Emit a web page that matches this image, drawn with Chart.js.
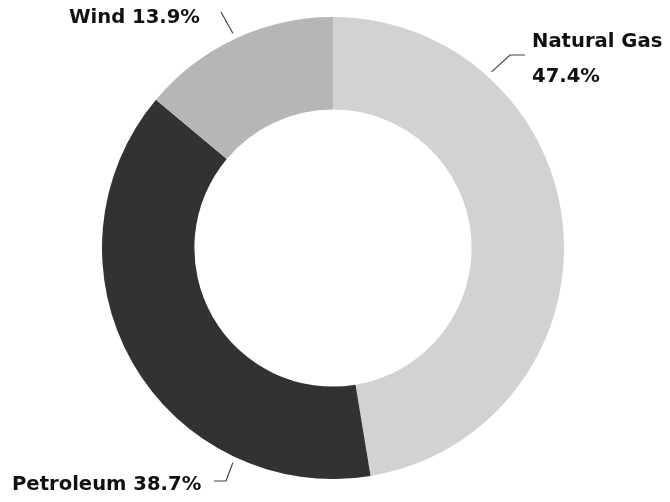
<!DOCTYPE html>
<html>
<head>
<meta charset="utf-8">
<script src="https://cdn.jsdelivr.net/npm/chart.js@4.4.1/dist/chart.umd.min.js"></script>
<style>
  html, body { margin: 0; padding: 0; background: #fff; }
  #wrap { width: 670px; height: 502px; position: relative; }
</style>
</head>
<body>
<div id="wrap"><canvas id="chart"></canvas></div>
<script>
// Data
const categories = ['Natural Gas', 'Petroleum', 'Wind'];
const shares = [47.4, 38.7, 13.9];
const sliceColors = ['#d2d2d2', '#323232', '#b6b6b6'];

// Where each callout sits (angle is clockwise from 12 o'clock, on the ring edge)
const callouts = [
  { anchorDeg: 42, path: [[510, 55], [525, 55]], textX: 532, textY: 47, lines: 2 },
  { anchorDeg: 205, path: [[226, 481], [214, 481]], textX: 12, textY: 490, lines: 1 },
  { anchorDeg: 335, path: [[221, 12]], textX: 200, textY: 23, lines: 1, align: 'right' }
];

const labelFont = 'bold 19.6px "DejaVu Sans"';

const calloutPlugin = {
  id: 'callouts',
  afterDraw(chart) {
    const ctx = chart.ctx;
    const meta = chart.getDatasetMeta(0);
    ctx.save();
    callouts.forEach((c, i) => {
      const arc = meta.data[i];
      const a = (c.anchorDeg - 90) * Math.PI / 180;
      const r = arc.outerRadius + 6;
      ctx.beginPath();
      ctx.moveTo(arc.x + r * Math.cos(a), arc.y + r * Math.sin(a));
      c.path.forEach(p => ctx.lineTo(p[0], p[1]));
      ctx.strokeStyle = '#444';
      ctx.lineWidth = 1.2;
      ctx.stroke();

      ctx.font = labelFont;
      ctx.fillStyle = '#111';
      ctx.textAlign = c.align || 'left';
      ctx.textBaseline = 'alphabetic';
      const pct = shares[i].toFixed(1) + '%';
      if (c.lines === 2) {
        ctx.fillText(categories[i], c.textX, c.textY);
        ctx.fillText(pct, c.textX, c.textY + 35);
      } else {
        ctx.fillText(categories[i] + ' ' + pct, c.textX, c.textY);
      }
    });
    ctx.restore();
  }
};

new Chart(document.getElementById('chart'), {
  type: 'doughnut',
  data: {
    labels: categories,
    datasets: [{
      data: shares,
      backgroundColor: sliceColors,
      borderWidth: 0
    }]
  },
  options: {
    responsive: true,
    maintainAspectRatio: false,
    animation: false,
    cutout: '60%',
    layout: { padding: { left: 102, right: 106, top: 17, bottom: 23 } },
    plugins: {
      legend: { display: false },
      tooltip: { enabled: false }
    }
  },
  plugins: [calloutPlugin]
});
</script>
</body>
</html>
